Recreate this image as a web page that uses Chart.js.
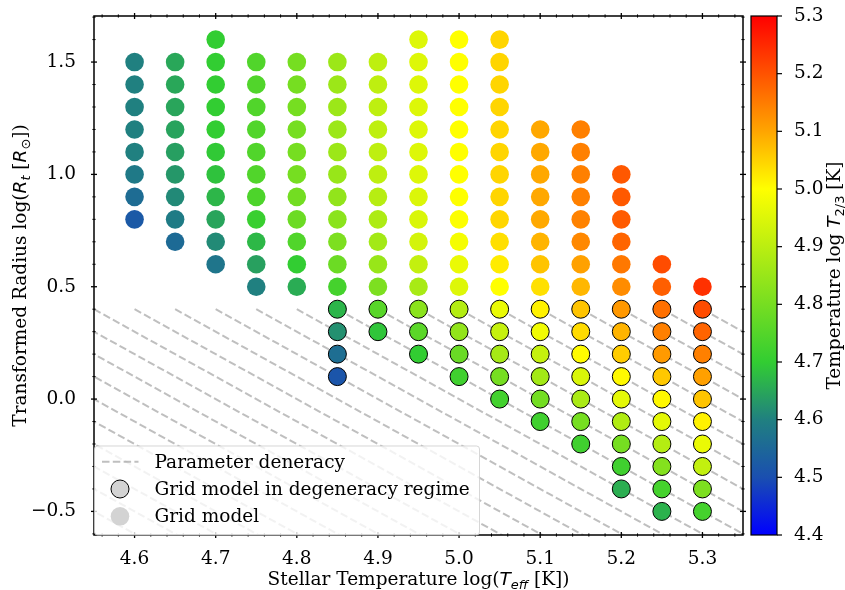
<!DOCTYPE html>
<html>
<head>
<meta charset="utf-8">
<script src="https://cdn.jsdelivr.net/npm/chart.js@4.4.1/dist/chart.umd.min.js"></script>
<style>
  html, body { margin: 0; padding: 0; background: #ffffff; }
  canvas { display: block; }
</style>
</head>
<body>
<canvas id="c" width="845" height="590"></canvas>
<script>
// Grid models outside the degeneracy regime:
// log Teff, log Rt and the resulting log T(2/3), listed column by column
const gridTeff = [
  4.60, 4.60, 4.60, 4.60, 4.60, 4.60, 4.60, 4.60,
  4.65, 4.65, 4.65, 4.65, 4.65, 4.65, 4.65, 4.65, 4.65,
  4.70, 4.70, 4.70, 4.70, 4.70, 4.70, 4.70, 4.70, 4.70, 4.70, 4.70,
  4.75, 4.75, 4.75, 4.75, 4.75, 4.75, 4.75, 4.75, 4.75, 4.75, 4.75,
  4.80, 4.80, 4.80, 4.80, 4.80, 4.80, 4.80, 4.80, 4.80, 4.80, 4.80,
  4.85, 4.85, 4.85, 4.85, 4.85, 4.85, 4.85, 4.85, 4.85, 4.85, 4.85,
  4.90, 4.90, 4.90, 4.90, 4.90, 4.90, 4.90, 4.90, 4.90, 4.90, 4.90,
  4.95, 4.95, 4.95, 4.95, 4.95, 4.95, 4.95, 4.95, 4.95, 4.95, 4.95, 4.95,
  5.00, 5.00, 5.00, 5.00, 5.00, 5.00, 5.00, 5.00, 5.00, 5.00, 5.00, 5.00,
  5.05, 5.05, 5.05, 5.05, 5.05, 5.05, 5.05, 5.05, 5.05, 5.05, 5.05, 5.05,
  5.10, 5.10, 5.10, 5.10, 5.10, 5.10, 5.10, 5.10,
  5.15, 5.15, 5.15, 5.15, 5.15, 5.15, 5.15, 5.15,
  5.20, 5.20, 5.20, 5.20, 5.20, 5.20,
  5.25, 5.25,
  5.30
];
const gridRt = [
  1.5, 1.4, 1.3, 1.2, 1.1, 1.0, 0.9, 0.8,
  1.5, 1.4, 1.3, 1.2, 1.1, 1.0, 0.9, 0.8, 0.7,
  1.6, 1.5, 1.4, 1.3, 1.2, 1.1, 1.0, 0.9, 0.8, 0.7, 0.6,
  1.5, 1.4, 1.3, 1.2, 1.1, 1.0, 0.9, 0.8, 0.7, 0.6, 0.5,
  1.5, 1.4, 1.3, 1.2, 1.1, 1.0, 0.9, 0.8, 0.7, 0.6, 0.5,
  1.5, 1.4, 1.3, 1.2, 1.1, 1.0, 0.9, 0.8, 0.7, 0.6, 0.5,
  1.5, 1.4, 1.3, 1.2, 1.1, 1.0, 0.9, 0.8, 0.7, 0.6, 0.5,
  1.6, 1.5, 1.4, 1.3, 1.2, 1.1, 1.0, 0.9, 0.8, 0.7, 0.6, 0.5,
  1.6, 1.5, 1.4, 1.3, 1.2, 1.1, 1.0, 0.9, 0.8, 0.7, 0.6, 0.5,
  1.6, 1.5, 1.4, 1.3, 1.2, 1.1, 1.0, 0.9, 0.8, 0.7, 0.6, 0.5,
  1.2, 1.1, 1.0, 0.9, 0.8, 0.7, 0.6, 0.5,
  1.2, 1.1, 1.0, 0.9, 0.8, 0.7, 0.6, 0.5,
  1.0, 0.9, 0.8, 0.7, 0.6, 0.5,
  0.6, 0.5,
  0.5
];
const gridT23 = [
  4.600, 4.600, 4.600, 4.600, 4.600, 4.585, 4.560, 4.520,
  4.650, 4.650, 4.648, 4.645, 4.640, 4.630, 4.612, 4.590, 4.556,
  4.700, 4.700, 4.700, 4.700, 4.700, 4.695, 4.686, 4.670, 4.647, 4.613, 4.578,
  4.745, 4.745, 4.745, 4.745, 4.745, 4.745, 4.740, 4.710, 4.673, 4.642, 4.600,
  4.800, 4.800, 4.800, 4.800, 4.800, 4.800, 4.795, 4.785, 4.745, 4.700, 4.657,
  4.855, 4.855, 4.855, 4.855, 4.855, 4.850, 4.840, 4.830, 4.810, 4.785, 4.728,
  4.905, 4.905, 4.905, 4.905, 4.905, 4.905, 4.895, 4.880, 4.865, 4.850, 4.810,
  4.950, 4.950, 4.950, 4.950, 4.950, 4.950, 4.950, 4.948, 4.944, 4.935, 4.912, 4.872,
  5.000, 5.000, 5.000, 5.000, 5.000, 5.000, 5.000, 4.998, 4.995, 4.985, 4.970, 4.950,
  5.047, 5.047, 5.047, 5.047, 5.047, 5.047, 5.047, 5.047, 5.045, 5.035, 5.021, 5.000,
  5.097, 5.097, 5.097, 5.097, 5.095, 5.083, 5.065, 5.034,
  5.145, 5.145, 5.145, 5.145, 5.143, 5.135, 5.105, 5.080,
  5.193, 5.192, 5.190, 5.178, 5.155, 5.130,
  5.208, 5.185,
  5.240
];

// Grid models inside the degeneracy regime
const degTeff = [
  4.85, 4.85, 4.85, 4.85,
  4.90, 4.90,
  4.95, 4.95, 4.95,
  5.00, 5.00, 5.00, 5.00,
  5.05, 5.05, 5.05, 5.05, 5.05,
  5.10, 5.10, 5.10, 5.10, 5.10, 5.10,
  5.15, 5.15, 5.15, 5.15, 5.15, 5.15, 5.15,
  5.20, 5.20, 5.20, 5.20, 5.20, 5.20, 5.20, 5.20, 5.20,
  5.25, 5.25, 5.25, 5.25, 5.25, 5.25, 5.25, 5.25, 5.25, 5.25,
  5.30, 5.30, 5.30, 5.30, 5.30, 5.30, 5.30, 5.30, 5.30, 5.30
];
const degRt = [
  0.4, 0.3, 0.2, 0.1,
  0.4, 0.3,
  0.4, 0.3, 0.2,
  0.4, 0.3, 0.2, 0.1,
  0.4, 0.3, 0.2, 0.1, 0.0,
  0.4, 0.3, 0.2, 0.1, 0.0, -0.1,
  0.4, 0.3, 0.2, 0.1, 0.0, -0.1, -0.2,
  0.4, 0.3, 0.2, 0.1, 0.0, -0.1, -0.2, -0.3, -0.4,
  0.4, 0.3, 0.2, 0.1, 0.0, -0.1, -0.2, -0.3, -0.4, -0.5,
  0.4, 0.3, 0.2, 0.1, 0.0, -0.1, -0.2, -0.3, -0.4, -0.5
];
const degT23 = [
  4.669, 4.621, 4.563, 4.512,
  4.755, 4.690,
  4.830, 4.760, 4.700,
  4.890, 4.840, 4.780, 4.720,
  4.970, 4.915, 4.870, 4.800, 4.725,
  5.015, 4.980, 4.915, 4.865, 4.795, 4.720,
  5.065, 5.040, 5.005, 4.945, 4.875, 4.800, 4.720,
  5.116, 5.083, 5.057, 5.007, 4.960, 4.885, 4.800, 4.720, 4.660,
  5.164, 5.145, 5.113, 5.061, 5.008, 4.960, 4.890, 4.820, 4.728, 4.665,
  5.208, 5.179, 5.145, 5.106, 5.065, 5.015, 4.970, 4.910, 4.810, 4.728
];

// Lines of constant Rt*Teff^2 (slope -2), each starting at log Rt = 0.4
const degLineStart = [
  4.05, 4.10, 4.15, 4.20, 4.25, 4.30, 4.35, 4.40, 4.45, 4.50, 4.55,
  4.60, 4.65, 4.70, 4.75, 4.80, 4.85, 4.90, 4.95, 5.00, 5.05, 5.10,
  5.15, 5.20, 5.25, 5.30
];
const degLineRt0 = 0.4;
const degLineSlope = -2;

// Axis ticks
const xTicks = [4.6, 4.7, 4.8, 4.9, 5.0, 5.1, 5.2, 5.3];
const yTicks = [-0.5, 0.0, 0.5, 1.0, 1.5];
const cbTicks = [4.4, 4.5, 4.6, 4.7, 4.8, 4.9, 5.0, 5.1, 5.2, 5.3];

// Colour map for log T(2/3): blue -> teal -> green -> yellow -> orange -> red
const cmapStops = [
  [4.4, [0, 0, 255]],
  [4.5, [26, 79, 176]],
  [4.6, [32, 128, 128]],
  [4.7, [50, 205, 50]],
  [5.0, [255, 255, 0]],
  [5.1, [255, 165, 0]],
  [5.3, [255, 0, 0]]
];
const cbMin = 4.4, cbMax = 5.3;

function cmap(v) {
  if (v <= cmapStops[0][0]) return 'rgb(' + cmapStops[0][1].join(',') + ')';
  for (let i = 1; i < cmapStops.length; i++) {
    const [v1, c1] = cmapStops[i];
    const [v0, c0] = cmapStops[i - 1];
    if (v <= v1) {
      const f = (v - v0) / (v1 - v0);
      const c = c0.map((a, k) => Math.round(a + (c1[k] - a) * f));
      return 'rgb(' + c.join(',') + ')';
    }
  }
  return 'rgb(' + cmapStops[cmapStops.length - 1][1].join(',') + ')';
}

const SERIF = 'DejaVu Serif';
const MATH = 'DejaVu Sans';
const FS = 18.5;

function fmt(v) {
  return (v < -1e-9 ? '\u2212' : '') + Math.abs(v).toFixed(1);
}

const gridPoints = gridTeff.map((t, i) => ({ x: t, y: gridRt[i] }));
const degPoints = degTeff.map((t, i) => ({ x: t, y: degRt[i] }));

const lineSets = degLineStart.map(t0 => ({
  type: 'scatter',
  showLine: true,
  data: [
    { x: t0, y: degLineRt0 },
    { x: t0 + 1.5, y: degLineRt0 + degLineSlope * 1.5 }
  ],
  borderColor: 'rgba(128,128,128,0.5)',
  borderWidth: 2,
  borderDash: [7.5, 3.3],
  pointRadius: 0,
  pointHoverRadius: 0,
  fill: false,
  order: 3
}));

// Draw a label made of mixed roman / italic / subscript pieces
function drawRich(ctx, parts, cx, cy, rotate) {
  ctx.save();
  ctx.translate(cx, cy);
  if (rotate) ctx.rotate(-Math.PI / 2);
  ctx.fillStyle = '#000';
  ctx.textBaseline = 'alphabetic';
  let total = 0;
  const fonts = parts.map(p => {
    const size = p.sub ? FS * 0.7 : FS;
    const f = (p.italic ? 'italic ' : '') + size + 'px "' + (p.math ? MATH : SERIF) + '"';
    ctx.font = f;
    const w = ctx.measureText(p.t).width;
    total += w;
    return { f, w };
  });
  let x = -total / 2;
  parts.forEach((p, i) => {
    ctx.font = fonts[i].f;
    ctx.textAlign = 'left';
    ctx.fillText(p.t, x, p.sub ? FS * 0.22 : 0);
    x += fonts[i].w;
  });
  ctx.restore();
}

const decorPlugin = {
  id: 'decor',
  afterDraw(chart) {
    const ctx = chart.ctx;
    const a = chart.chartArea;
    const xs = chart.scales.x, ys = chart.scales.y, cs = chart.scales.cb;

    // frame
    ctx.save();
    ctx.strokeStyle = '#000';
    ctx.lineWidth = 1.5;
    ctx.strokeRect(a.left, a.top, a.right - a.left, a.bottom - a.top);

    // ticks crossing the frame (in and out)
    function tick(x0, y0, x1, y1, w) {
      ctx.lineWidth = w;
      ctx.beginPath();
      ctx.moveTo(x0, y0);
      ctx.lineTo(x1, y1);
      ctx.stroke();
    }
    const xMinor = [];
    for (let k = 228; k <= 267; k++) {
      const v = k / 50;
      if (k % 5 !== 0) xMinor.push(v);
    }
    const yMinor = [];
    for (let k = -6; k <= 17; k++) {
      if (k % 5 !== 0) yMinor.push(k / 10);
    }
    xTicks.forEach(v => {
      const p = xs.getPixelForValue(v);
      tick(p, a.bottom - 3, p, a.bottom + 3, 1.3);
      tick(p, a.top - 3, p, a.top + 3, 1.3);
    });
    xMinor.forEach(v => {
      const p = xs.getPixelForValue(v);
      tick(p, a.bottom - 1.6, p, a.bottom + 1.6, 1);
      tick(p, a.top - 1.6, p, a.top + 1.6, 1);
    });
    yTicks.forEach(v => {
      const p = ys.getPixelForValue(v);
      tick(a.left - 3, p, a.left + 3, p, 1.3);
      tick(a.right - 3, p, a.right + 3, p, 1.3);
    });
    yMinor.forEach(v => {
      const p = ys.getPixelForValue(v);
      tick(a.left - 1.6, p, a.left + 1.6, p, 1);
      tick(a.right - 1.6, p, a.right + 1.6, p, 1);
    });

    // legend (lower left, semi-transparent)
    const lx = a.left + 0.5, lw = 385, lh = 89;
    const ly = a.bottom - lh;
    ctx.beginPath();
    ctx.roundRect(lx, ly, lw, lh, 3);
    ctx.fillStyle = 'rgba(255,255,255,0.8)';
    ctx.fill();
    ctx.lineWidth = 1;
    ctx.strokeStyle = 'rgba(204,204,204,0.8)';
    ctx.stroke();

    const rows = [ly + 15.7, ly + 43, ly + 70.3];
    ctx.save();
    ctx.strokeStyle = 'rgba(128,128,128,0.5)';
    ctx.lineWidth = 2;
    ctx.setLineDash([7.5, 3.3]);
    ctx.beginPath();
    ctx.moveTo(lx + 7.5, rows[0]);
    ctx.lineTo(lx + 44, rows[0]);
    ctx.stroke();
    ctx.restore();

    ctx.beginPath();
    ctx.arc(lx + 25.5, rows[1], 9, 0, Math.PI * 2);
    ctx.fillStyle = '#d3d3d3';
    ctx.fill();
    ctx.lineWidth = 1;
    ctx.strokeStyle = '#000';
    ctx.stroke();

    ctx.beginPath();
    ctx.arc(lx + 25.5, rows[2], 9.3, 0, Math.PI * 2);
    ctx.fillStyle = '#d3d3d3';
    ctx.fill();

    ctx.fillStyle = '#000';
    ctx.font = FS + 'px "' + SERIF + '"';
    ctx.textAlign = 'left';
    ctx.textBaseline = 'middle';
    const legendText = ['Parameter deneracy', 'Grid model in degeneracy regime', 'Grid model'];
    legendText.forEach((t, i) => ctx.fillText(t, lx + 60, rows[i] + 1));

    // colour bar
    const bTop = cs.getPixelForValue(cbMax), bBot = cs.getPixelForValue(cbMin);
    const bL = a.right + 8, bR = a.right + 34;
    const g = ctx.createLinearGradient(0, bBot, 0, bTop);
    cmapStops.forEach(([v, c]) => g.addColorStop((v - cbMin) / (cbMax - cbMin), 'rgb(' + c.join(',') + ')'));
    ctx.fillStyle = g;
    ctx.fillRect(bL, bTop, bR - bL, bBot - bTop);
    ctx.strokeStyle = '#000';
    ctx.lineWidth = 1.2;
    ctx.strokeRect(bL, bTop, bR - bL, bBot - bTop);
    cbTicks.forEach(v => {
      const p = cs.getPixelForValue(v);
      tick(bR, p, bR + 5, p, 1.2);
    });
    ctx.restore();

    // axis titles
    drawRich(ctx, [
      { t: 'Stellar Temperature log(' },
      { t: 'T', italic: true, math: true },
      { t: 'eff', italic: true, math: true, sub: true },
      { t: ' [K])' }
    ], (a.left + a.right) / 2, 585, false);

    drawRich(ctx, [
      { t: 'Transformed Radius log(' },
      { t: 'R', italic: true, math: true },
      { t: 't', italic: true, math: true, sub: true },
      { t: ' [' },
      { t: 'R', italic: true, math: true },
      { t: '\u2299', math: true, sub: true },
      { t: '])' }
    ], 26, (a.top + a.bottom) / 2, true);

    drawRich(ctx, [
      { t: 'Temperature log ' },
      { t: 'T', italic: true, math: true },
      { t: '2/3', math: true, sub: true },
      { t: ' [K]' }
    ], 840, (bTop + bBot) / 2, true);
  }
};

const tickFont = { family: SERIF, size: FS };

new Chart(document.getElementById('c'), {
  type: 'scatter',
  data: {
    datasets: [
      {
        label: 'Grid model in degeneracy regime',
        data: degPoints,
        pointRadius: 9,
        pointBorderWidth: 1,
        pointBorderColor: '#000',
        pointBackgroundColor: degT23.map(cmap),
        order: 0
      },
      {
        label: 'Grid model',
        data: gridPoints,
        pointRadius: 9.3,
        pointBorderWidth: 0,
        pointBorderColor: 'rgba(0,0,0,0)',
        pointBackgroundColor: gridT23.map(cmap),
        order: 1
      },
      ...lineSets
    ]
  },
  options: {
    responsive: false,
    animation: false,
    devicePixelRatio: 1,
    events: [],
    layout: { padding: { top: 16, left: 0, right: 0, bottom: 0 } },
    plugins: { legend: { display: false }, tooltip: { enabled: false } },
    scales: {
      x: {
        type: 'linear',
        min: 4.55,
        max: 5.35,
        grid: { display: false },
        border: { display: false },
        afterBuildTicks: s => { s.ticks = xTicks.map(v => ({ value: v })); },
        ticks: { font: tickFont, color: '#000', padding: 5, maxRotation: 0, autoSkip: false, callback: v => fmt(v) },
        afterFit: s => { s.height = 55; s.paddingLeft = 0; s.paddingRight = 0; }
      },
      y: {
        type: 'linear',
        min: -0.605,
        max: 1.705,
        grid: { display: false },
        border: { display: false },
        afterBuildTicks: s => { s.ticks = yTicks.map(v => ({ value: v })); },
        ticks: { font: tickFont, color: '#000', padding: 10, autoSkip: false, callback: v => fmt(v) },
        afterFit: s => { s.width = 94; s.paddingTop = 0; s.paddingBottom = 0; }
      },
      cb: {
        type: 'linear',
        axis: 'y',
        position: 'right',
        min: cbMin,
        max: cbMax,
        grid: { display: false },
        border: { display: false },
        afterBuildTicks: s => { s.ticks = cbTicks.map(v => ({ value: v })); },
        ticks: { font: tickFont, color: '#000', padding: 43, autoSkip: false, callback: v => fmt(v) },
        afterFit: s => { s.width = 102; s.paddingTop = 0; s.paddingBottom = 0; }
      }
    }
  },
  plugins: [decorPlugin]
});
</script>
</body>
</html>
